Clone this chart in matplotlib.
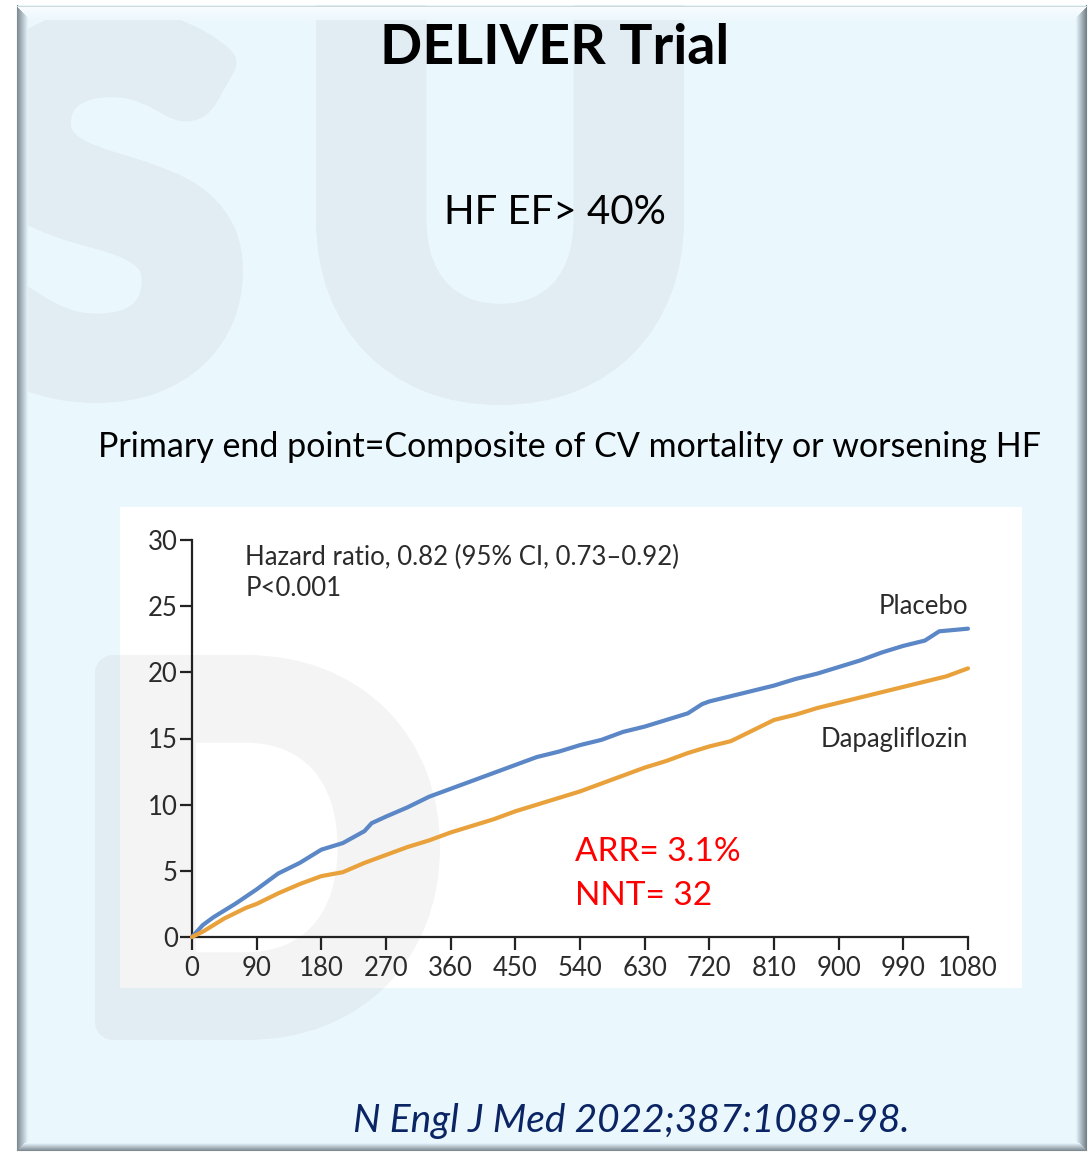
import matplotlib.pyplot as plt
from matplotlib.patches import Rectangle, PathPatch
from matplotlib.textpath import TextPath
from matplotlib.font_manager import FontProperties
from matplotlib.transforms import Affine2D

# cumulative incidence (%)
days_placebo = [0, 15, 30, 45, 60, 90, 120, 150, 180, 210, 240, 250, 270, 300, 330,
                360, 390, 420, 450, 480, 510, 540, 570, 600, 630, 660, 690, 710, 720,
                750, 780, 810, 840, 870, 900, 930, 960, 990, 1020, 1040, 1080]
placebo = [0, 0.9, 1.5, 2.0, 2.5, 3.6, 4.8, 5.6, 6.6, 7.1, 8.0, 8.6, 9.1, 9.8, 10.6,
           11.2, 11.8, 12.4, 13.0, 13.6, 14.0, 14.5, 14.9, 15.5, 15.9, 16.4, 16.9, 17.6, 17.8,
           18.2, 18.6, 19.0, 19.5, 19.9, 20.4, 20.9, 21.5, 22.0, 22.4, 23.1, 23.3]

days_dapa = [0, 15, 30, 45, 60, 75, 90, 120, 150, 180, 210, 240, 270, 300, 330, 360,
             390, 420, 450, 480, 510, 540, 570, 600, 630, 660, 690, 720, 750, 780, 810,
             840, 870, 900, 930, 960, 990, 1020, 1050, 1080]
dapa = [0, 0.4, 0.9, 1.4, 1.8, 2.2, 2.5, 3.3, 4.0, 4.6, 4.9, 5.6, 6.2, 6.8, 7.3, 7.9,
        8.4, 8.9, 9.5, 10.0, 10.5, 11.0, 11.6, 12.2, 12.8, 13.3, 13.9, 14.4, 14.8, 15.6, 16.4,
        16.8, 17.3, 17.7, 18.1, 18.5, 18.9, 19.3, 19.7, 20.3]

x_ticks = [0, 90, 180, 270, 360, 450, 540, 630, 720, 810, 900, 990, 1080]
y_ticks = [0, 5, 10, 15, 20, 25, 30]

W, H = 1089, 1153
fig = plt.figure(figsize=(W / 100, H / 100), dpi=100)
fig.patch.set_facecolor('white')

# full-figure layer in pixel units for the slide decoration
bg = fig.add_axes([0, 0, 1, 1])
bg.set_xlim(0, W)
bg.set_ylim(H, 0)
bg.axis('off')

slide = Rectangle((17, 5), 1070, 1146, facecolor='#EAF7FD', edgecolor='none', zorder=0)
bg.add_patch(slide)
panel = Rectangle((120, 507), 902, 481, facecolor='white', edgecolor='none', zorder=2)
bg.add_patch(panel)

STROKE = 18  # half of the extra outline used to fatten the watermark letters


def watermark(ch, x0, y0, x1, y1, color, z, clip):
    tp = TextPath((0, 0), ch, size=100, prop=FontProperties(family='Lato', weight='bold'))
    ext = tp.get_extents()
    x0, y0, x1, y1 = x0 + STROKE, y0 + STROKE, x1 - STROKE, y1 - STROKE
    sx = (x1 - x0) / ext.width
    sy = (y1 - y0) / ext.height
    tr = Affine2D().translate(-ext.x0, -ext.y0).scale(sx, -sy).translate(x0, y1)
    p = PathPatch(tr.transform_path(tp), facecolor=color, edgecolor=color,
                  lw=2 * STROKE * 0.72, joinstyle='round', zorder=z)
    bg.add_patch(p)
    p.set_clip_path(clip)


wm_blue = '#E1EDF3'
wm_white = '#F4F4F4'
watermark('S', -45, 8, 243, 403, wm_blue, 1, slide)
watermark('U', 316, -40, 684, 405, wm_blue, 1, slide)
watermark('D', 95, 655, 440, 1040, wm_blue, 1, slide)
watermark('D', 95, 655, 440, 1040, wm_white, 3, panel)

# bevel edges of the slide
def lerp(c0, c1, t):
    return tuple(a + (b - a) * t for a, b in zip(c0, c1))

dark = (0.50, 0.55, 0.58)
light = (0.89, 0.94, 0.97)
for i in range(11):
    t = i / 10
    bg.plot([17 + i, 17 + i], [5 + i, 1150 - i], color=lerp(dark, light, t), lw=0.8, zorder=5)
    bg.plot([1086 - i, 1086 - i], [5 + i, 1150 - i], color=lerp((0.45, 0.50, 0.53), light, t),
            lw=0.8, zorder=5)
for i in range(8):
    t = i / 7
    bg.plot([17 + i, 1086 - i], [1150 - i, 1150 - i], color=lerp(dark, light, t), lw=0.8, zorder=5)
for i in range(14):
    t = i / 13
    bg.plot([17 + i, 1086 - i], [6 + i, 6 + i],
            color=lerp((0.80, 0.84, 0.87) if i == 0 else (0.98, 0.99, 1.0), (0.93, 0.97, 0.99), t),
            lw=0.8, zorder=5)

# slide texts
slide_font = ['Lato', 'DejaVu Sans']
bg.text(555, 48, 'DELIVER Trial', family=slide_font, weight='bold', fontsize=40,
        ha='center', va='center', color='black', zorder=6)
bg.text(555, 212, 'HF EF> 40%', family=slide_font, fontsize=29,
        ha='center', va='center', color='black', zorder=6)
bg.text(570, 447, 'Primary end point=Composite of CV mortality or worsening HF',
        family=slide_font, fontsize=24.5, ha='center', va='center', color='black', zorder=6)
bg.text(631, 1121, 'N Engl J Med 2022;387:1089-98.', family=slide_font, style='italic',
        fontsize=28, ha='center', va='center', color='#0B2463', zorder=6)

# KM plot
ax = fig.add_axes([192 / W, 1 - 937 / H, (968 - 192) / W, (937 - 540) / H])
ax.patch.set_alpha(0)
ax.set_zorder(3)
ax.plot(days_placebo, placebo, color='#5B87C6', lw=3, solid_capstyle='round',
        clip_on=False, zorder=3)
ax.plot(days_dapa, dapa, color='#E9A13B', lw=3, solid_capstyle='round',
        clip_on=False, zorder=3)
ax.set_xlim(0, 1080)
ax.set_ylim(0, 30)
ax.set_xticks(x_ticks)
ax.set_yticks(y_ticks)
for s in ['top', 'right']:
    ax.spines[s].set_visible(False)
for s in ['left', 'bottom']:
    ax.spines[s].set_color('#222222')
    ax.spines[s].set_linewidth(1.6)

chart_font = ['Lato', 'DejaVu Sans']
ax.tick_params(axis='x', direction='out', length=9.4, width=1.6, pad=4, color='#222222',
               labelsize=18.5, labelcolor='#2b2b2b')
ax.tick_params(axis='y', direction='out', length=8.6, width=1.6, pad=1.5, color='#222222',
               labelsize=18.5, labelcolor='#2b2b2b')
for lab in ax.get_xticklabels() + ax.get_yticklabels():
    lab.set_family(chart_font)

ax.text(74, 28.7, 'Hazard ratio, 0.82 (95% CI, 0.73\u20130.92)', family=chart_font,
        fontsize=18.5, color='#2b2b2b', va='center')
ax.text(74, 26.3, 'P<0.001', family=chart_font, fontsize=18.5, color='#2b2b2b', va='center')
ax.text(1080, 25.0, 'Placebo', family=chart_font, fontsize=18.5, color='#2b2b2b',
        ha='right', va='center')
ax.text(1080, 14.9, 'Dapagliflozin', family=chart_font, fontsize=18.5, color='#2b2b2b',
        ha='right', va='center')
ax.text(533, 6.4, 'ARR= 3.1%', family=chart_font, fontsize=24, color='#FF0000', va='center')
ax.text(533, 3.1, 'NNT= 32', family=chart_font, fontsize=24, color='#FF0000', va='center')

fig.savefig('out.png', dpi=100, facecolor='white')
